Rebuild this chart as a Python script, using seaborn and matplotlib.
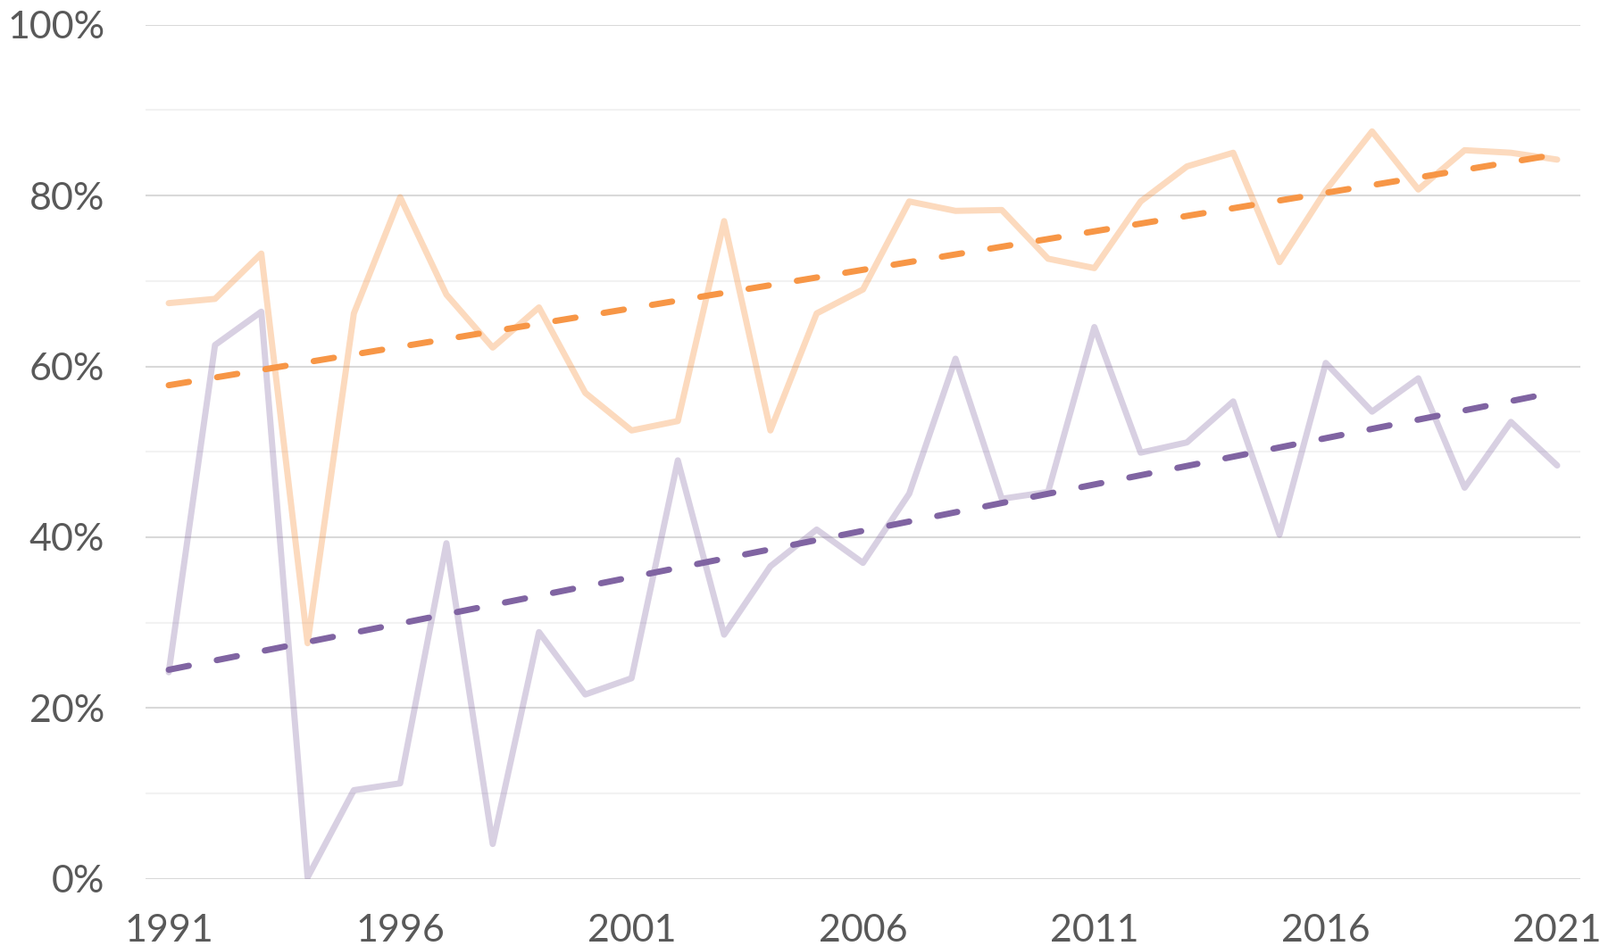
import numpy as np
import pandas as pd
import matplotlib
matplotlib.use("Agg")
import matplotlib.pyplot as plt
import seaborn as sns
from matplotlib.ticker import FuncFormatter, MultipleLocator

years = list(range(1991, 2022))
orange_vals = [67.4, 67.9, 73.2, 27.6, 66.2, 79.8, 68.4, 62.2, 66.9, 56.9,
               52.5, 53.6, 77.0, 52.5, 66.2, 69.0, 79.3, 78.2, 78.3, 72.6,
               71.5, 79.3, 83.4, 85.0, 72.2, 80.6, 87.5, 80.7, 85.3, 85.0, 84.2]
purple_vals = [24.2, 62.5, 66.4, 0.2, 10.4, 11.2, 39.3, 4.1, 28.9, 21.6,
               23.5, 49.0, 28.6, 36.6, 40.9, 37.0, 45.1, 60.9, 44.5, 45.3,
               64.6, 49.9, 51.1, 55.9, 40.3, 60.4, 54.7, 58.6, 45.8, 53.5, 48.4]
x_ticks = [1991, 1996, 2001, 2006, 2011, 2016, 2021]
y_ticks = [0, 20, 40, 60, 80, 100]

df = pd.DataFrame({"year": years, "orange": orange_vals, "purple": purple_vals})
# linear trend lines (least squares), as Excel trendlines
for col in ["orange", "purple"]:
    k, b = np.polyfit(df["year"], df[col], 1)
    df[col + "_trend"] = k * df["year"] + b

sns.set_theme(style="white")
plt.rcParams["font.family"] = ["Lato", "DejaVu Sans"]

fig = plt.figure(figsize=(17.92, 10.6), dpi=100)
ax = fig.add_axes([0.091, 0.0708, 0.8967, 0.9032])

lw = 5.0
sns.lineplot(data=df, x="year", y="orange", ax=ax, color="#F79646", alpha=0.35,
             linewidth=lw, solid_joinstyle="round", solid_capstyle="round", zorder=3)
sns.lineplot(data=df, x="year", y="purple", ax=ax, color="#8064A2", alpha=0.3,
             linewidth=lw, solid_joinstyle="round", solid_capstyle="round", zorder=3)
sns.lineplot(data=df, x="year", y="orange_trend", ax=ax, color="#F79646",
             linewidth=5.0, zorder=4)
sns.lineplot(data=df, x="year", y="purple_trend", ax=ax, color="#8064A2",
             linewidth=5.0, zorder=4)
for line in ax.lines[2:]:
    line.set_dashes((3.3, 4.6))
    line.set_dash_capstyle("round")

ax.set_xlim(1990.5, 2021.5)
ax.set_ylim(0, 100)
ax.set_xticks(x_ticks)
ax.set_yticks(y_ticks)
ax.yaxis.set_minor_locator(MultipleLocator(10))
ax.yaxis.set_major_formatter(FuncFormatter(lambda v, p: f"{int(v)}%"))
ax.grid(axis="y", which="major", color="#D9D9D9", linewidth=1.5, zorder=0)
ax.grid(axis="y", which="minor", color="#F2F2F2", linewidth=1.5, zorder=0)
ax.grid(axis="x", visible=False)
for s in ax.spines.values():
    s.set_visible(False)
ax.tick_params(axis="both", which="both", length=0, labelsize=31, labelcolor="#595959")
ax.tick_params(axis="y", pad=33)
ax.tick_params(axis="x", pad=28)
ax.set_xlabel("")
ax.set_ylabel("")
ax.set_axisbelow(True)

fig.savefig("out.png", dpi=100)
